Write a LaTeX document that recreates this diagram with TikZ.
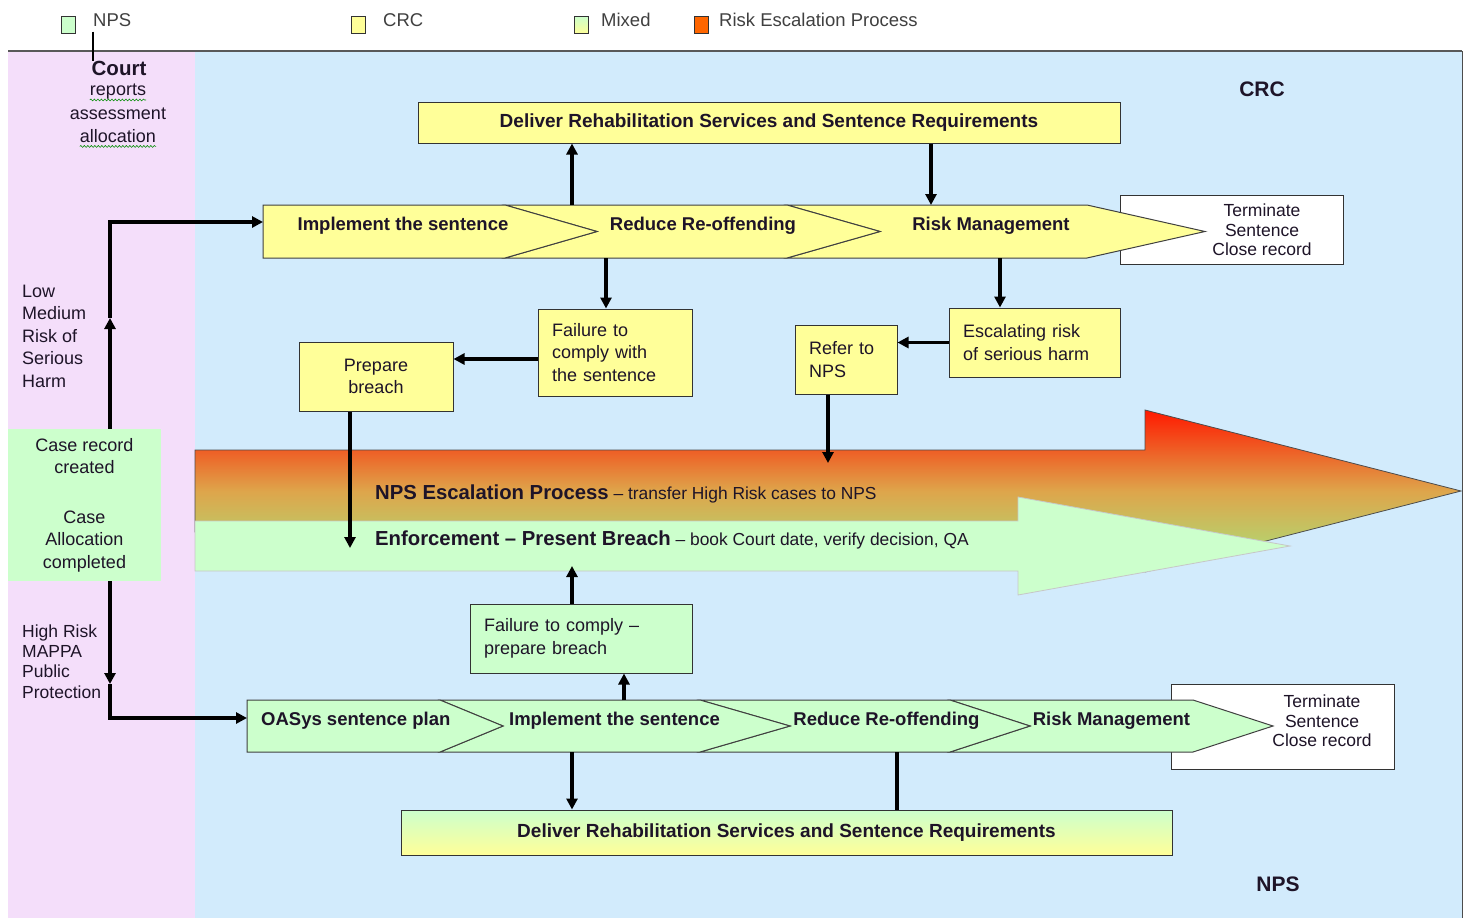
\documentclass[tikz,border=0pt]{standalone}
\usepackage{fontspec}
\setmainfont{Liberation Sans}
\usetikzlibrary{arrows.meta,decorations.pathmorphing}
\definecolor{bgblue}{RGB}{210,235,252}
\definecolor{bgpink}{RGB}{244,222,250}
\definecolor{crcy}{RGB}{255,255,153}
\definecolor{npsg}{RGB}{204,255,204}
\definecolor{riskor}{RGB}{255,102,0}
\definecolor{escTop}{RGB}{255,25,0}
\definecolor{escMid}{RGB}{222,165,75}
\definecolor{escBot}{RGB}{165,230,125}
\definecolor{txt}{RGB}{30,20,40}
\newlength\oaswd
\begin{document}
\begin{tikzpicture}[x=1pt,y=-1pt,
  every node/.style={text=txt},
  reg/.style={font=\fontsize{18}{22.5}\selectfont},
  legtxt/.style={font=\fontsize{18.5}{20}\selectfont, text=black!75, inner sep=0pt, anchor=west},
  box/.style={draw=black!80, line width=1pt, inner sep=0pt},
  ybox/.style={box, fill=crcy},
  gbox/.style={box, fill=npsg},
  arr/.style={line width=3.2pt, -{Triangle[length=11pt,width=11pt]}},
  plainline/.style={line width=3.2pt},
  chevY/.style={draw=black!75, line width=1pt, fill=crcy},
  chevG/.style={draw=black!75, line width=1pt, fill=npsg},
  chevtext/.style={font=\bfseries\fontsize{18.5}{20}\selectfont, inner sep=0pt},
  deltext/.style={font=\bfseries\fontsize{19}{21}\selectfont},
  termtext/.style={font=\fontsize{17.5}{19.5}\selectfont, align=center, inner sep=0pt},
  wavyG/.style={draw=green!55!black, line width=0.6pt, decorate, decoration={snake, amplitude=0.9pt, segment length=3.5pt}},
  wavyR/.style={draw=red, line width=0.6pt, decorate, decoration={snake, amplitude=0.9pt, segment length=3.5pt}},
  bigtitle/.style={font=\bfseries\fontsize{21}{24}\selectfont, inner sep=0pt},
  legsq/.style={draw=black!80, line width=0.9pt, minimum width=14, minimum height=17, inner sep=0pt},
]
\settowidth{\oaswd}{\bfseries\fontsize{18.5}{20}\selectfont OASys}
\useasboundingbox (0,0) rectangle (1469,918);
% backgrounds
\fill[white] (0,0) rectangle (1469,918);
\fill[bgpink] (8,51) rectangle (195,918);
\fill[bgblue] (195,51) rectangle (1462,918);
\draw[line width=1.5pt, black!65] (8,51) -- (1462,51);
\draw[line width=1pt, black!70] (1462,51) -- (1462,918);

% legend
\node[legsq, fill=npsg] (lgN) at (68,24.5) {};
\node[legsq, fill=crcy] (lgC) at (358,25) {};
\node[legsq, top color=npsg, bottom color=crcy] (lgM) at (581,25) {};
\node[legsq, fill=riskor] (lgR) at (701,25) {};
\node[legtxt] (legNPS) at (93,20) {NPS};
\node[legtxt] (legCRC) at (383,20) {CRC};
\node[legtxt] (legMix) at (601,20) {Mixed};
\node[legtxt] (legRisk) at (719,20) {Risk Escalation Process};

% court
\node[font=\bfseries\fontsize{20.5}{22}\selectfont, inner sep=0pt] (court) at (119,68) {Court};
\draw[line width=1.8pt, black] ([yshift=-5pt]legNPS.south west) -- (legNPS.south west |- court.north);
\node[reg, inner sep=0pt] (rep) at (118,92) {reports};
\node[reg, inner sep=0pt] (ass) at (118,114) {assessment};
\node[reg, inner sep=0pt] (allo) at (118,136) {allocation};
\draw[wavyG] ([yshift=-4pt]rep.base west) -- ([yshift=-4pt]rep.base east);
\draw[wavyG] ([yshift=-4pt]allo.base west) -- ([yshift=-4pt]allo.base east);

\node[bigtitle] (crcL) at (1262,89) {CRC};
\node[bigtitle] (npsL) at (1278,884) {NPS};

% left column
\node[fill=npsg, minimum width=153, minimum height=152, inner sep=0pt, reg, align=center] (case) at (84.5,505)
  {Case record\\created\\[27pt]Case\\Allocation\\completed};
\node[reg, align=left, anchor=west, inner sep=0pt] (lowlbl) at (22,336) {Low\\Medium\\Risk of\\Serious\\Harm};
\node[font=\fontsize{17.5}{20.4}\selectfont, align=left, anchor=west, inner sep=0pt] (highlbl) at (22,661.5) {High Risk\\MAPPA\\Public\\Protection};

% top deliver box
\node[ybox, minimum width=702, minimum height=41, deltext] (delTop) at (769,122.5) {Deliver Rehabilitation Services and Sentence Requirements};

% terminate boxes (under chevrons)
\node[box, fill=white, minimum width=223, minimum height=69] (term1) at (1231.5,229.5) {};
\node[box, fill=white, minimum width=223, minimum height=85] (term2) at (1282.5,726.5) {};

% top chevrons
\path[chevY] (787,205) -- (1087,205) -- (1205,231.5) -- (1087,258) -- (787,258) -- (880,231.5) -- cycle;
\path[chevY] (505,205) -- (787,205) -- (880,231.5) -- (787,258) -- (505,258) -- (597,231.5) -- cycle;
\path[chevY] (263,205) -- (505,205) -- (597,231.5) -- (505,258) -- (263,258) -- cycle;
\node[chevtext, anchor=base] (tImp) at (403,230) {Implement the sentence};
\node[chevtext, anchor=base] (tRed) at (703,230) {Reduce Re-offending};
\node[chevtext, anchor=base] (tRisk) at (991,230) {Risk Management};
\node[termtext] (term1t) at (1262,230) {Terminate\\Sentence\\Close record};

% bottom chevrons
\path[chevG] (950,700) -- (1193,700) -- (1273,726) -- (1193,752) -- (950,752) -- (1030,726) -- cycle;
\path[chevG] (700,700) -- (950,700) -- (1030,726) -- (950,752) -- (700,752) -- (790,726) -- cycle;
\path[chevG] (440,700) -- (700,700) -- (790,726) -- (700,752) -- (440,752) -- (503,726) -- cycle;
\path[chevG] (247,700) -- (440,700) -- (503,726) -- (440,752) -- (247,752) -- cycle;
\node[chevtext, anchor=base west] (bOas) at (261,725) {OASys sentence plan};
\draw[wavyR] ([yshift=-4pt]bOas.base west) -- ++(\oaswd,0);
\node[chevtext, anchor=base] (bImp) at (614.5,725) {Implement the sentence};
\node[chevtext, anchor=base] (bRed) at (886.5,725) {Reduce Re-offending};
\node[chevtext, anchor=base] (bRisk) at (1111.5,725) {Risk Management};
\node[termtext] (term2t) at (1322,721) {Terminate\\Sentence\\Close record};

% middle boxes
\node[ybox, reg, minimum width=154, minimum height=87, text width=126, align=left] (fail) at (615,352.5) {Failure to\\comply with\\the sentence};
\node[ybox, reg, minimum width=154, minimum height=69, align=center] (prep) at (376,376.5) {Prepare\\breach};
\node[ybox, reg, minimum width=171, minimum height=69, text width=143, align=left] (esc) at (1034.5,342.5) {Escalating risk\\of serious harm};
\node[ybox, reg, minimum width=102, minimum height=69, text width=74, align=left] (refer) at (846,359.5) {Refer to\\NPS};
\node[gbox, reg, minimum width=222, minimum height=69, text width=194, align=left] (fail2) at (581,638.5) {Failure to comply --\\prepare breach};

% big arrows
\path[draw=black!70, line width=0.8pt, top color=escTop, bottom color=escBot, middle color=escMid]
  (195,450) -- (1145,450) -- (1145,410) -- (1461,491) -- (1145,572) -- (1145,532) -- (195,532) -- cycle;
\path[draw=black!22, line width=0.8pt, fill=npsg]
  (195,521) -- (1018,521) -- (1018,497) -- (1290,546) -- (1018,595) -- (1018,571) -- (195,571) -- cycle;
\node[anchor=base west, inner sep=0pt] (escTxt) at (375,499)
  {\bfseries\fontsize{20.3}{22}\selectfont NPS Escalation Process\mdseries\fontsize{17.4}{18}\selectfont{} -- transfer High Risk cases to NPS};
\node[anchor=base west, inner sep=0pt] (enfTxt) at (375,545)
  {\bfseries\fontsize{20.3}{22}\selectfont Enforcement -- Present Breach\mdseries\fontsize{17.4}{18}\selectfont{} -- book Court date, verify decision, QA};

% bottom deliver box
\node[box, top color=npsg, bottom color=crcy, minimum width=771, minimum height=45, deltext] (delBot) at (786.5,832.5) {Deliver Rehabilitation Services and Sentence Requirements};

% connectors
\coordinate (a1) at (572,205);
\draw[arr] (a1) -- (a1 |- delTop.south);
\coordinate (a2) at (931,205);
\draw[arr] (a2 |- delTop.south) -- (a2);
\coordinate (a3) at (606,258);
\draw[arr] (a3) -- (a3 |- fail.north);
\coordinate (a4) at (538,359);
\draw[arr] (a4) -- (a4 -| prep.east);
\coordinate (e5) at (350,548);
\draw[arr] (e5 |- prep.south) -- (e5);
\coordinate (a6) at (1000,258);
\draw[arr] (a6) -- (a6 |- esc.north);
\draw[arr] (esc.west) -- (esc.west -| refer.east);
\coordinate (e8) at (828,463);
\draw[arr] (e8 |- refer.south) -- (e8);
\coordinate (e9) at (572,566);
\draw[arr] (e9 |- fail2.north) -- (e9);
\coordinate (a10) at (624,700);
\draw[arr] (a10) -- (a10 |- fail2.south);
\coordinate (a11) at (572,752);
\draw[arr] (a11) -- (a11 |- delBot.north);
\coordinate (a12) at (897,752);
\draw[plainline] (a12 |- delBot.north) -- (a12);

% left route arrows
\coordinate (m1) at (110,318);
\coordinate (l1) at (110,222);
\coordinate (c1w) at (263,222);
\draw[arr] (case.north -| m1) -- (m1);
\draw[arr] (m1) -- (l1) -- (c1w);
\coordinate (m2) at (110,684);
\coordinate (l2) at (110,718);
\coordinate (c2w) at (247,718);
\draw[arr] (case.south -| m2) -- (m2);
\draw[arr] (m2) -- (l2) -- (c2w);
\end{tikzpicture}
\end{document}
